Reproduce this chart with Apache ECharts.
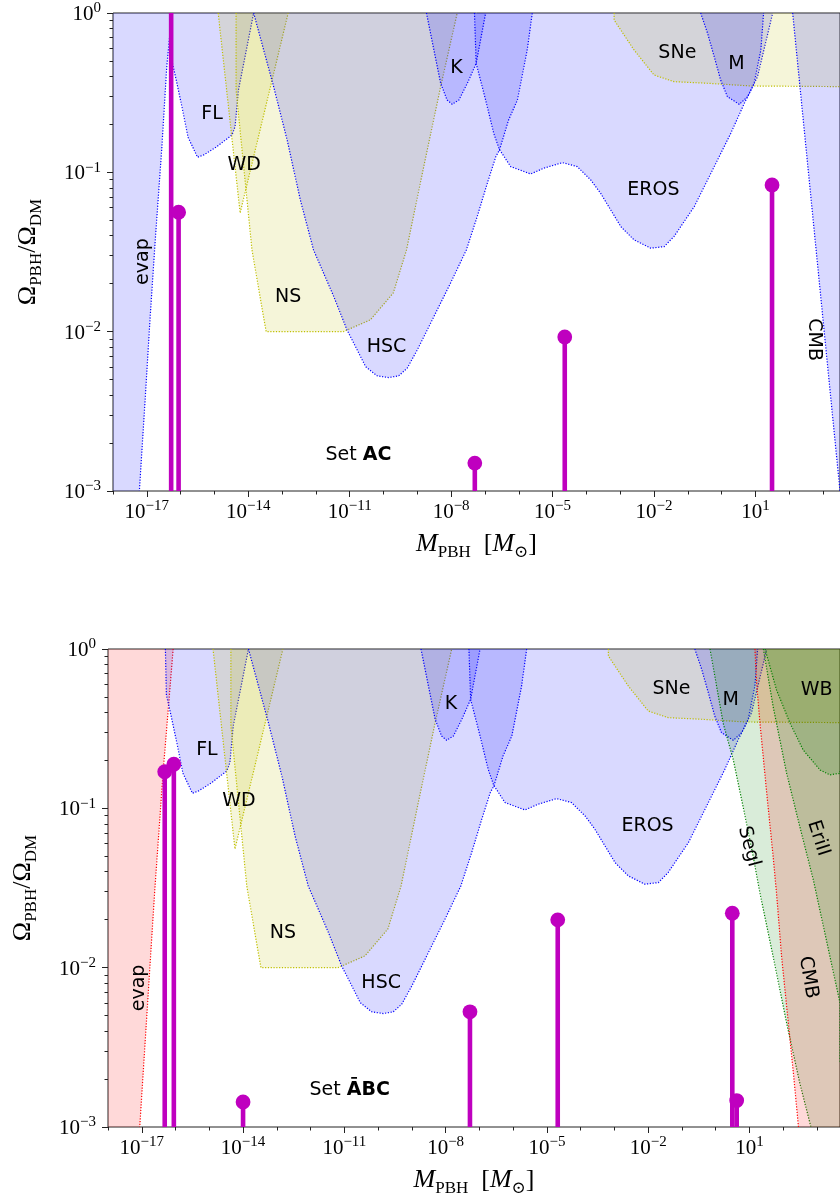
<!DOCTYPE html>
<html><head><meta charset="utf-8">
<script src="https://cdn.jsdelivr.net/npm/echarts@6/dist/echarts.min.js"></script>
<style>html,body{margin:0;padding:0;background:#fff}#c{width:840px;height:1201px}</style>
</head><body><div id="c"></div>
<script>
// ===== DATA (log10 M/Msun , log10 Omega_PBH/Omega_DM) =====
const X_TICKS = [-17, -14, -11, -8, -5, -2, 1];
const Y_TICKS = [-3, -2, -1, 0];

// constraint boundaries, common to both panels
const FL   = [[-16.30,0],[-16.27,-0.29],[-16.12,-0.43],[-15.95,-0.60],[-15.78,-0.78],[-15.50,-0.905],[-15.32,-0.891],[-14.93,-0.839],[-14.48,-0.765],[-14.39,-0.713],[-14.29,-0.483],[-13.84,0]];
const WD   = [[-14.89,0],[-14.24,-1.255],[-12.82,0]];
const NS   = [[-14.36,0],[-14.36,-0.483],[-13.89,-1.487],[-13.55,-1.905],[-13.47,-2.0],[-11.19,-2.0],[-11.07,-1.989],[-10.39,-1.926],[-9.71,-1.757],[-9.32,-1.487],[-8.81,-0.964],[-8.31,-0.462],[-7.82,0]];
const HSC  = [[-13.84,0],[-13.25,-0.462],[-12.85,-0.797],[-12.46,-1.173],[-12.07,-1.487],[-11.47,-1.780],[-11.08,-1.989],[-10.83,-2.093],[-10.53,-2.219],[-10.19,-2.277],[-9.85,-2.288],[-9.55,-2.277],[-9.30,-2.229],[-9.00,-2.114],[-8.51,-1.905],[-8.02,-1.696],[-7.55,-1.487],[-7.23,-1.278],[-6.93,-1.068],[-6.68,-0.902],[-6.57,-0.859],[-6.30,-0.671],[-6.04,-0.546],[-5.75,-0.232],[-5.60,0]];
const K    = [[-8.73,0],[-8.51,-0.232],[-8.31,-0.441],[-8.12,-0.546],[-7.97,-0.573],[-7.77,-0.546],[-7.52,-0.441],[-7.26,-0.316],[-7.13,-0.169],[-6.98,0]];
const EROS = [[-7.31,0],[-7.26,-0.316],[-6.98,-0.546],[-6.74,-0.755],[-6.57,-0.859],[-6.53,-0.870],[-6.24,-0.964],[-5.65,-1.010],[-5.26,-0.974],[-4.71,-0.939],[-4.27,-0.964],[-3.87,-1.048],[-3.58,-1.131],[-3.28,-1.236],[-2.98,-1.341],[-2.59,-1.424],[-2.10,-1.476],[-1.70,-1.466],[-1.41,-1.403],[-0.81,-1.215],[-0.22,-0.964],[0.27,-0.755],[0.67,-0.567],[0.87,-0.483],[1.06,-0.400],[1.51,0]];
const MACHO= [[-0.62,0],[-0.42,-0.125],[-0.22,-0.274],[-0.03,-0.420],[0.17,-0.525],[0.52,-0.573],[0.77,-0.525],[0.96,-0.441],[1.16,-0.232],[1.24,0]];
const SNE  = [[-3.18,0],[-3.18,-0.044],[-2.59,-0.232],[-2.00,-0.389],[-1.41,-0.431],[-0.42,-0.441],[0.87,-0.458],[4.0,-0.462]];

// top panel only
const EVAP_AC = [[-16.26,0],[-16.41,-0.337],[-16.56,-0.859],[-16.75,-1.424],[-16.90,-1.905],[-17.05,-2.428],[-17.22,-3.0]];
const CMB_AC  = [[2.10,0],[2.80,-1.50],[3.50,-3.0]];

// bottom panel only
const EVAP_ABC = [[-16.07,0],[-16.37,-0.778],[-16.62,-1.531],[-17.06,-3.0]];
const CMB_ABC  = [[1.16,0],[1.21,-0.215],[1.31,-0.466],[1.51,-0.905],[1.70,-1.303],[1.80,-1.533],[1.95,-1.930],[2.15,-2.348],[2.30,-2.662],[2.44,-2.976],[2.45,-3.0]];
const SEGL     = [[-0.17,0],[0.22,-0.466],[0.52,-0.696],[0.81,-0.989],[1.11,-1.303],[1.31,-1.533],[1.70,-1.930],[2.10,-2.348],[2.49,-2.725],[2.79,-2.976],[2.82,-3.0]];
const ERIII    = [[1.41,0],[1.70,-0.362],[2.10,-0.780],[2.49,-1.115],[2.89,-1.449],[3.68,-2.221],[4.2,-2.6]];
const WB       = [[1.46,0],[1.80,-0.257],[2.20,-0.466],[2.59,-0.634],[3.09,-0.759],[3.38,-0.790],[3.68,-0.780],[4.2,-0.76]];

// PBH mass-function spikes
const STEMS_AC  = [[-16.28,0.5],[-16.06,-1.25],[-7.30,-2.825],[-4.64,-2.033],[1.49,-1.079]];
const STEMS_ABC = [[-16.32,-0.770],[-16.05,-0.723],[-14.0,-2.843],[-7.28,-2.277],[-4.68,-1.700],[0.49,-1.658],[0.62,-2.834]];

// labels: [text, log M, log Omega, rotation deg]
const LABELS_COMMON = [['FL',-15.07,-0.634,0],['WD',-14.12,-0.954,0],['NS',-12.82,-1.782,0],['HSC',-9.91,-2.095,0],['K',-7.84,-0.345,0],['EROS',-2.02,-1.11,0],['SNe',-1.31,-0.251,0],['M',0.44,-0.320,0]];
const LABELS_AC  = [['evap',-17.12,-1.56,90],['CMB',2.74,-2.05,-90],['{n|Set }{b|AC}',-10.74,-2.773,0]];
const LABELS_ABC = [['evap',-17.09,-2.127,90],['WB',2.99,-0.257,0],['Segl',0.98,-1.240,-75],['EriII',3.04,-1.188,-72],['CMB',2.74,-2.061,-80],['{n|Set }{b|\u0100BC}',-10.84,-2.767,0]];

// ===== STYLE =====
const SERIF = '"Liberation Serif", "DejaVu Serif", serif';
const SANS = '"DejaVu Sans", sans-serif';
const C = {
  blue:  ['rgba(0,0,255,0.15)', '#0000ff'],
  yel:   ['rgba(191,191,0,0.15)', '#bfbf00'],
  red:   ['rgba(255,0,0,0.15)', '#ff0000'],
  green: ['rgba(0,128,0,0.15)', '#008000']
};
const MAG = '#bf00bf';

const Y_MINOR = [];
[-3,-2,-1].forEach(d => { for (let k = 2; k <= 9; k++) Y_MINOR.push(d + Math.log10(k)); });

function powLabel(v) {
  const n = Math.round(v);
  return '{b|10}{s|' + (n < 0 ? '\u2212' + (-n) : String(n)) + '}';
}
const powRich = {
  b: {fontFamily: SERIF, fontSize: 21, lineHeight: 24, verticalAlign: 'bottom', color: '#000'},
  s: {fontFamily: SERIF, fontSize: 15, lineHeight: 15, verticalAlign: 'top', color: '#000'}
};
const nameRich = {
  i: {fontFamily: SERIF, fontStyle: 'italic', fontSize: 26, lineHeight: 30, verticalAlign: 'top', color: '#000'},
  r: {fontFamily: SERIF, fontSize: 26, lineHeight: 30, verticalAlign: 'top', color: '#000'},
  sb: {fontFamily: SERIF, fontSize: 17, lineHeight: 17, verticalAlign: 'bottom', color: '#000'}
};

const GRIDS = [
  {left: 113, top: 13, width: 727, height: 478, xmax: 3.5},
  {left: 108, top: 649, width: 732, height: 478, xmax: 3.68}
];

const xAxes = [], yAxes = [];
GRIDS.forEach((g, gi) => {
  xAxes.push({
    gridIndex: gi, type: 'value', min: -18, max: g.xmax, interval: 1, position: 'bottom',
    axisLine: {show: false, onZero: false}, splitLine: {show: false},
    axisTick: {show: true, customValues: X_TICKS, length: 6, lineStyle: {color: '#222', width: 1}},
    axisLabel: {show: true, customValues: X_TICKS, formatter: powLabel, rich: powRich, margin: 8},
    name: '{i|M}{sb|PBH}{r|  [}{i|M}{sb|\u2299}{r|]}', nameLocation: 'middle', nameGap: 40,
    nameMoveOverlap: false,
    nameTextStyle: {rich: nameRich, verticalAlign: 'top'}
  });
  xAxes.push({
    gridIndex: gi, type: 'value', min: -18, max: g.xmax, interval: 1, position: 'bottom',
    axisLine: {show: false, onZero: false}, splitLine: {show: false}, axisLabel: {show: false},
    axisTick: {show: true, length: 3.5, lineStyle: {color: '#222', width: 1}}
  });
  yAxes.push({
    gridIndex: gi, type: 'value', min: -3, max: 0, interval: 1, position: 'left',
    axisLine: {show: false, onZero: false}, splitLine: {show: false},
    axisTick: {show: true, length: 6, lineStyle: {color: '#222', width: 1}},
    axisLabel: {formatter: powLabel, rich: powRich, margin: 12},
    name: '{r|\u03A9}{sb|PBH}{r|/\u03A9}{sb|DM}', nameLocation: 'middle', nameGap: 68, nameRotate: 90,
    nameTextStyle: {rich: nameRich}
  });
  yAxes.push({
    gridIndex: gi, type: 'value', min: -3, max: 0, position: 'left',
    axisLine: {show: false, onZero: false}, splitLine: {show: false}, axisLabel: {show: false},
    axisTick: {show: true, customValues: Y_MINOR, length: 3.5, lineStyle: {color: '#222', width: 1}}
  });
});

function region(gi, curve, side, col) {
  return {
    type: 'custom', xAxisIndex: gi * 2, yAxisIndex: gi * 2, silent: true, clip: true, z: 2,
    data: [curve[0]],
    renderItem: (params, api) => {
      const cs = params.coordSys;
      const L = cs.x, R = cs.x + cs.width, T = cs.y, B = cs.y + cs.height;
      const clamp = p => [Math.min(R, Math.max(L, p[0])), Math.min(B, Math.max(T, p[1]))];
      const pts = curve.map(d => clamp(api.coord(d)));
      const f = pts[0], l = pts[pts.length - 1];
      const poly = pts.slice();
      if (side === 'top') poly.push([l[0], T], [f[0], T]);
      else if (side === 'left') poly.push([l[0], B], [L, B], [L, T], [f[0], T]);
      else poly.push([l[0], B], [R, B], [R, T], [f[0], T]);
      return {type: 'group', children: [
        {type: 'polygon', shape: {points: poly}, style: {fill: col[0], stroke: null}},
        {type: 'polyline', shape: {points: pts}, style: {fill: null, stroke: col[1], lineWidth: 1.2, lineDash: [1.2, 1.6]}}
      ]};
    }
  };
}

function stems(gi, data) {
  return {
    type: 'custom', xAxisIndex: gi * 2, yAxisIndex: gi * 2, silent: true, z: 4,
    data: data,
    renderItem: (params, api) => {
      const cs = params.coordSys;
      const x = api.value(0), y = api.value(1);
      const p = api.coord([x, y]);
      const p0 = api.coord([x, -3]);
      const top = Math.max(p[1], cs.y);
      const ch = [{type: 'line', shape: {x1: p[0], y1: p0[1], x2: p[0], y2: top}, style: {stroke: MAG, lineWidth: 4.6}}];
      if (p[1] >= cs.y) ch.push({type: 'circle', shape: {cx: p[0], cy: p[1], r: 7.4}, style: {fill: MAG}});
      return {type: 'group', children: ch};
    }
  };
}

function labels(gi, list) {
  return {
    type: 'custom', xAxisIndex: gi * 2, yAxisIndex: gi * 2, silent: true, z: 6,
    data: list.map(a => [a[1], a[2]]),
    renderItem: (params, api) => {
      const a = list[params.dataIndex];
      const p = api.coord([api.value(0), api.value(1)]);
      return {type: 'text', x: p[0], y: p[1], rotation: a[3] * Math.PI / 180,
        style: {text: a[0], fontFamily: SANS, fontSize: 19, fill: '#000', align: 'center', verticalAlign: 'middle',
          rich: {n: {fontFamily: SANS, fontSize: 19, fill: '#000'}, b: {fontFamily: SANS, fontSize: 19, fontWeight: 'bold', fill: '#000'}}}};
    }
  };
}

const series = [
  region(0, EVAP_AC, 'left', C.blue),
  region(0, FL, 'top', C.blue),
  region(0, WD, 'top', C.yel),
  region(0, NS, 'top', C.yel),
  region(0, HSC, 'top', C.blue),
  region(0, K, 'top', C.blue),
  region(0, EROS, 'top', C.blue),
  region(0, SNE, 'top', C.yel),
  region(0, MACHO, 'top', C.blue),
  region(0, CMB_AC, 'right', C.blue),
  stems(0, STEMS_AC),
  labels(0, LABELS_COMMON.concat(LABELS_AC)),

  region(1, EVAP_ABC, 'left', C.red),
  region(1, FL, 'top', C.blue),
  region(1, WD, 'top', C.yel),
  region(1, NS, 'top', C.yel),
  region(1, HSC, 'top', C.blue),
  region(1, K, 'top', C.blue),
  region(1, EROS, 'top', C.blue),
  region(1, SNE, 'top', C.yel),
  region(1, MACHO, 'top', C.blue),
  region(1, SEGL, 'right', C.green),
  region(1, CMB_ABC, 'right', C.red),
  region(1, ERIII, 'right', C.green),
  region(1, WB, 'top', C.green),
  stems(1, STEMS_ABC),
  labels(1, LABELS_COMMON.concat(LABELS_ABC))
];

const chart = echarts.init(document.getElementById('c'), null, {renderer: 'canvas', width: 840, height: 1201});
chart.setOption({
  animation: false,
  backgroundColor: '#fff',
  grid: GRIDS.map(g => ({left: g.left, top: g.top, width: g.width, height: g.height, show: true, borderColor: '#222', borderWidth: 1, containLabel: false})),
  xAxis: xAxes,
  yAxis: yAxes,
  series: series
});
</script></body></html>
